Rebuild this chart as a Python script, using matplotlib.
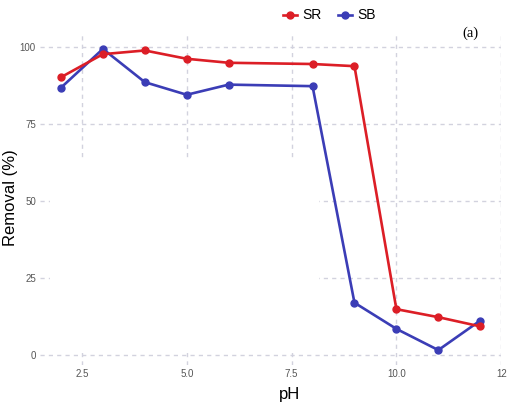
import matplotlib
matplotlib.use("Agg")
import matplotlib.pyplot as plt
from matplotlib.lines import Line2D
from matplotlib.patches import Rectangle

plt.rcParams["font.family"] = ["Liberation Sans", "DejaVu Sans"]

ph = [2, 3, 4, 5, 6, 8, 9, 10, 11, 12]
sr = [90.3, 97.8, 99.0, 96.3, 95.0, 94.6, 93.9, 14.9, 12.3, 9.3]
sb = [86.9, 99.5, 88.7, 84.6, 87.9, 87.4, 17.0, 8.5, 1.6, 11.2]
xticks = [2.5, 5.0, 7.5, 10.0, 12.5]
xticklabels = ["2.5", "5.0", "7.5", "10.0", "12"]
yticks = [0, 25, 50, 75, 100]

RED = "#DC1E26"
BLUE = "#3B3DB6"
GRID = "#D2D2DE"

fig = plt.figure(figsize=(5.13, 4.08), dpi=100)
ax = fig.add_axes([0.078, 0.105, 0.899, 0.812])
ax.set_xlim(1.5, 12.5)
ax.set_ylim(-3.3, 104.4)

for s in ax.spines.values():
    s.set_visible(False)

for x in xticks:
    ax.axvline(x, color=GRID, lw=1.0, ls=(0, (3, 3)), zorder=0)
for y in yticks:
    ax.axhline(y, color=GRID, lw=1.0, ls=(0, (3, 3)), zorder=0)

# blanked region in the reference image
ax.add_patch(Rectangle((1.73, 1.0), 8.15 - 1.73, 63.4 - 1.0,
                       facecolor="white", edgecolor="none", zorder=1))

ax.plot(ph, sb, color=BLUE, lw=1.9, marker="o", ms=5, zorder=3)
ax.plot(ph, sr, color=RED, lw=1.9, marker="o", ms=5, zorder=4)

ax.set_xticks(xticks)
ax.set_xticklabels(xticklabels)
ax.set_yticks(yticks)
ax.tick_params(axis="both", length=0, labelsize=7, labelcolor="#555555", pad=3)

fig.text(290 / 513, 1 - 395 / 408, "pH", fontsize=12, ha="center", va="center")
fig.text(11 / 513, 1 - 198 / 408, "Removal (%)", fontsize=12, rotation=90,
         ha="center", va="center")

handles = [Line2D([], [], color=RED, lw=1.9, marker="o", ms=5),
           Line2D([], [], color=BLUE, lw=1.9, marker="o", ms=5)]
fig.legend(handles, ["SR", "SB"], loc="upper center", bbox_to_anchor=(0.642, 1.01),
           ncol=2, frameon=False, fontsize=10, handlelength=1.0, handletextpad=0.4,
           columnspacing=1.2)

fig.text(0.918, 1 - 33 / 408, "(a)", fontsize=10.5, family="Liberation Serif",
         ha="center", va="center")

fig.savefig("out.png", dpi=100)
